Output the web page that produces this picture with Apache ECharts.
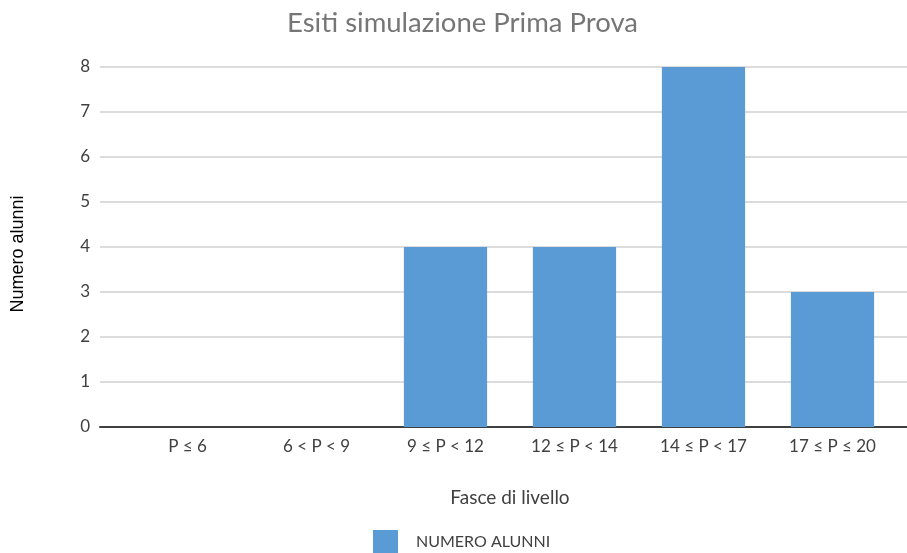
<!DOCTYPE html>
<html><head><meta charset="utf-8">
<script src="https://cdn.jsdelivr.net/npm/echarts@6/dist/echarts.min.js"></script>
<style>html,body{margin:0;padding:0;background:#fff}#c{width:907px;height:553px}</style>
</head><body><div id="c"></div>
<script>
const categories = ['P ≤ 6', '6 < P < 9', '9 ≤ P < 12', '12 ≤ P < 14', '14 ≤ P < 17', '17 ≤ P ≤ 20'];
const numeroAlunni = [0, 0, 4, 4, 8, 3];
const seriesName = 'NUMERO ALUNNI';
const yMin = 0, yMax = 8, yStep = 1;

const chart = echarts.init(document.getElementById('c'));
const font = 'Lato, "Open Sans", sans-serif';
chart.setOption({
  animation: false,
  title: { text: 'Esiti simulazione Prima Prova', left: 282, top: 4,
    textStyle: { fontFamily: font, fontSize: 27.5, fontWeight: 'normal', color: '#767676' } },
  legend: { data: [seriesName], left: 368, top: 525, itemWidth: 25, itemHeight: 23, itemGap: 18,
    textStyle: { fontFamily: font, fontSize: 16, color: '#404040', padding: [0, 0, 0, 13] }, icon: 'rect' },
  grid: [
    { left: 100, right: 0, top: 67, height: 360 },
    { left: 123, right: 10, top: 67, height: 360 }
  ],
  xAxis: [
    { gridIndex: 0, type: 'value', min: 0, max: 1, axisLabel: { show: false }, axisTick: { show: false },
      splitLine: { show: false }, axisLine: { show: true, lineStyle: { color: '#404040', width: 2 } } },
    { gridIndex: 1, type: 'category', data: categories, axisLine: { show: false }, axisTick: { show: false },
      axisLabel: { margin: 11, fontFamily: font, fontSize: 17, color: '#404040' },
      name: 'Fasce di livello', nameLocation: 'middle', nameGap: 61,
      nameTextStyle: { fontFamily: font, fontSize: 19, color: '#404040' } }
  ],
  yAxis: [
    { gridIndex: 0, type: 'value', min: yMin, max: yMax, interval: yStep,
      axisLine: { show: false }, axisTick: { show: false },
      axisLabel: { margin: 10, fontFamily: font, fontSize: 17, color: '#404040' },
      splitLine: { lineStyle: { color: '#d0d0d0', width: 1.5 } },
      name: 'Numero alunni', nameLocation: 'middle', nameGap: 73, nameRotate: 90,
      nameTextStyle: { fontFamily: '"Liberation Sans", Arial, sans-serif', fontSize: 18, color: '#000', padding: [0, 14, 0, 0] } },
    { gridIndex: 1, type: 'value', min: yMin, max: yMax, interval: yStep, show: false }
  ],
  series: [{
    name: seriesName, type: 'bar', xAxisIndex: 1, yAxisIndex: 1, data: numeroAlunni,
    barWidth: '64.5%', itemStyle: { color: '#5B9BD5' }
  }]
});
</script></body></html>
